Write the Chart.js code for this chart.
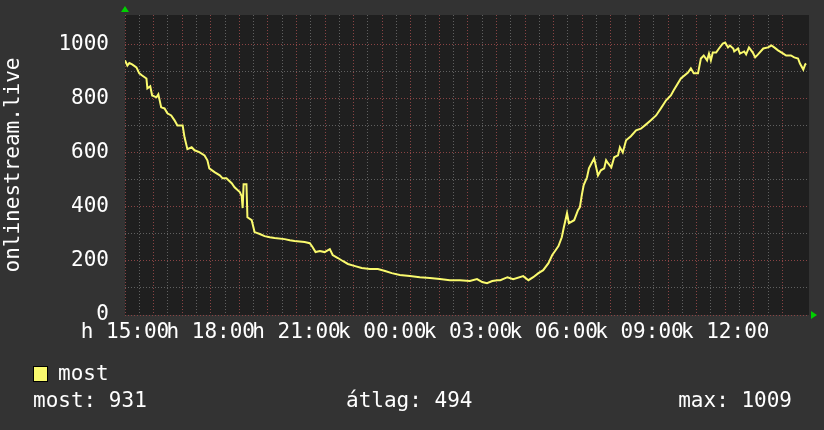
<!DOCTYPE html>
<html>
<head>
<meta charset="utf-8">
<script src="https://cdn.jsdelivr.net/npm/chart.js@4.4.1/dist/chart.umd.min.js"></script>
<style>
  html, body { margin: 0; padding: 0; background: #333333; }
  #wrap { width: 824px; height: 430px; }
</style>
</head>
<body>
<div id="wrap"><canvas id="graph" width="824" height="430"></canvas></div>
<script>
// minutes since 15:00 (h) and viewer count
var minutes = [0, 5, 9, 15, 24, 30, 36, 45, 47, 53, 57, 66, 70, 76, 83, 89, 97, 104, 110, 121,
    125, 131, 140, 146, 156, 167, 173, 177, 188, 199, 205, 213, 224, 230, 241, 245, 247, 249, 255, 257,
    266, 272, 283, 293, 304, 314, 335, 346, 356, 377, 388, 394, 400, 409, 419, 430, 436, 447, 457, 468,
    483, 497, 514, 531, 546, 560, 577, 598, 619, 640, 661, 682, 703, 724, 739, 750, 760, 771, 782, 788,
    803, 815, 836, 847, 857, 868, 878, 889, 897, 904, 910, 917, 921, 928, 932, 943, 951, 955, 959, 963,
    970, 974, 985, 993, 999, 1006, 1010, 1014, 1021, 1027, 1035, 1039, 1045, 1052, 1062, 1073, 1083, 1094, 1104, 1115,
    1125, 1136, 1146, 1152, 1167, 1182, 1188, 1194, 1203, 1209, 1215, 1222, 1226, 1230, 1234, 1241, 1247, 1255, 1260, 1266,
    1270, 1277, 1279, 1287, 1291, 1300, 1304, 1310, 1318, 1323, 1329, 1340, 1350, 1357, 1363, 1371, 1382, 1388, 1398, 1405,
    1413, 1417, 1424, 1428, 1430];
var viewers = [943, 924, 933, 928, 917, 895, 887, 876, 839, 847, 813, 806, 817, 769, 765, 747, 739, 721, 702, 702,
    658, 614, 621, 610, 603, 591, 573, 543, 529, 517, 506, 506, 488, 473, 455, 440, 396, 484, 484, 362,
    351, 307, 300, 292, 288, 285, 281, 277, 274, 270, 266, 251, 233, 237, 233, 244, 222, 211, 200, 189,
    181, 174, 170, 170, 163, 155, 148, 144, 140, 137, 133, 129, 129, 126, 133, 122, 118, 126, 129, 129,
    140, 133, 144, 129, 140, 155, 166, 192, 222, 240, 255, 288, 322, 377, 340, 351, 388, 399, 444, 481,
    510, 543, 580, 517, 536, 543, 573, 562, 547, 584, 591, 621, 602, 647, 662, 684, 690, 706, 721, 739,
    765, 795, 813, 832, 876, 898, 913, 895, 895, 950, 961, 943, 968, 943, 972, 972, 987, 1005, 1009, 991,
    998, 987, 976, 987, 968, 976, 965, 991, 972, 954, 965, 987, 991, 998, 991, 980, 968, 961, 961, 954,
    950, 931, 909, 928, 931];

// one label every 3 hours
var xTickLabels = ['h 15:00', 'h 18:00', 'h 21:00', 'k 00:00', 'k 03:00', 'k 06:00', 'k 09:00', 'k 12:00'];
var yTickLabels = ['0', '200', '400', '600', '800', '1000'];

var legendName = 'most';
var statNames = ['most', 'átlag', 'max'];
var statValues = [931, 494, 1009];

var FONT = 'DejaVu Sans Mono';
var LINE_COLOR = '#fafa6e';
var MAJOR_GRID = '#8a4444';
var MINOR_GRID = '#606060';

var rrdBackground = {
    id: 'rrdBackground',
    beforeDraw: function (chart) {
        var ctx = chart.ctx;
        var a = chart.chartArea;
        ctx.save();
        ctx.fillStyle = '#333333';
        ctx.fillRect(0, 0, chart.width, chart.height);
        ctx.fillStyle = '#1f1f1f';
        ctx.fillRect(a.left, a.top, a.right - a.left, a.bottom - a.top);
        ctx.restore();
    },
    afterDraw: function (chart) {
        var ctx = chart.ctx;
        var a = chart.chartArea;
        ctx.save();

        // axis arrows
        ctx.fillStyle = '#00d000';
        ctx.beginPath();
        ctx.moveTo(a.left - 4, a.top - 3);
        ctx.lineTo(a.left + 4, a.top - 3);
        ctx.lineTo(a.left, a.top - 9);
        ctx.closePath();
        ctx.fill();
        ctx.beginPath();
        ctx.moveTo(a.right + 2, a.bottom - 4);
        ctx.lineTo(a.right + 2, a.bottom + 4);
        ctx.lineTo(a.right + 8, a.bottom);
        ctx.closePath();
        ctx.fill();

        // legend
        ctx.fillStyle = LINE_COLOR;
        ctx.fillRect(33, 366, 14, 15);
        ctx.strokeStyle = '#000000';
        ctx.lineWidth = 1;
        ctx.strokeRect(33.5, 366.5, 14, 15);

        ctx.font = '21px "' + FONT + '"';
        ctx.fillStyle = '#ffffff';
        ctx.textBaseline = 'middle';
        ctx.textAlign = 'left';
        ctx.fillText(legendName, 58, 375);
        ctx.fillText(statNames[0] + ': ' + statValues[0], 33, 402);
        ctx.fillText(statNames[1] + ': ' + statValues[1], 346, 402);
        ctx.textAlign = 'right';
        ctx.fillText(statNames[2] + ': ' + statValues[2], 792, 402);
        ctx.restore();
    }
};

var ctx = document.getElementById('graph').getContext('2d');
new Chart(ctx, {
    type: 'line',
    data: {
        datasets: [{
            label: legendName,
            data: minutes.map(function (m, i) { return { x: m, y: viewers[i] }; }),
            borderColor: LINE_COLOR,
            borderWidth: 2,
            pointRadius: 0,
            tension: 0,
            fill: false
        }]
    },
    options: {
        responsive: false,
        animation: false,
        layout: { padding: { top: 15, right: 15, left: 0, bottom: 0 } },
        plugins: {
            legend: { display: false },
            tooltip: { enabled: false }
        },
        scales: {
            x: {
                type: 'linear',
                min: 0,
                max: 1436,
                afterBuildTicks: function (scale) {
                    scale.ticks = scale.ticks.filter(function (t) { return t.value % 30 === 0; });
                },
                afterFit: function (scale) { scale.height = 115; },
                ticks: {
                    stepSize: 30,
                    autoSkip: false,
                    maxRotation: 0,
                    padding: 5,
                    color: '#ffffff',
                    font: { family: FONT, size: 21 },
                    callback: function (value) {
                        return value % 180 === 0 ? xTickLabels[value / 180] : '';
                    }
                },
                grid: {
                    drawTicks: false,
                    lineWidth: 1,
                    color: function (c) { return c.tick && c.tick.value % 60 === 0 ? MAJOR_GRID : MINOR_GRID; }
                },
                border: { display: false, dash: [1, 2] }
            },
            y: {
                min: 0,
                max: 1111,
                afterBuildTicks: function (scale) {
                    scale.ticks = scale.ticks.filter(function (t) { return t.value % 100 === 0; });
                },
                afterFit: function (scale) {
                    scale.width = 125;
                    scale.paddingTop = 0;
                    scale.paddingBottom = 0;
                },
                ticks: {
                    stepSize: 100,
                    padding: 16,
                    color: '#ffffff',
                    font: { family: FONT, size: 21 },
                    callback: function (value) {
                        return value % 200 === 0 ? yTickLabels[value / 200] : '';
                    }
                },
                title: {
                    display: true,
                    text: 'onlinestream.live',
                    color: '#ffffff',
                    font: { family: FONT, size: 21 },
                    padding: { top: 1, bottom: 0 }
                },
                grid: {
                    drawTicks: false,
                    lineWidth: 1,
                    color: function (c) { return c.tick && c.tick.value % 200 === 0 ? MAJOR_GRID : MINOR_GRID; }
                },
                border: { display: false, dash: [1, 2] }
            }
        }
    },
    plugins: [rrdBackground]
});
</script>
</body>
</html>
